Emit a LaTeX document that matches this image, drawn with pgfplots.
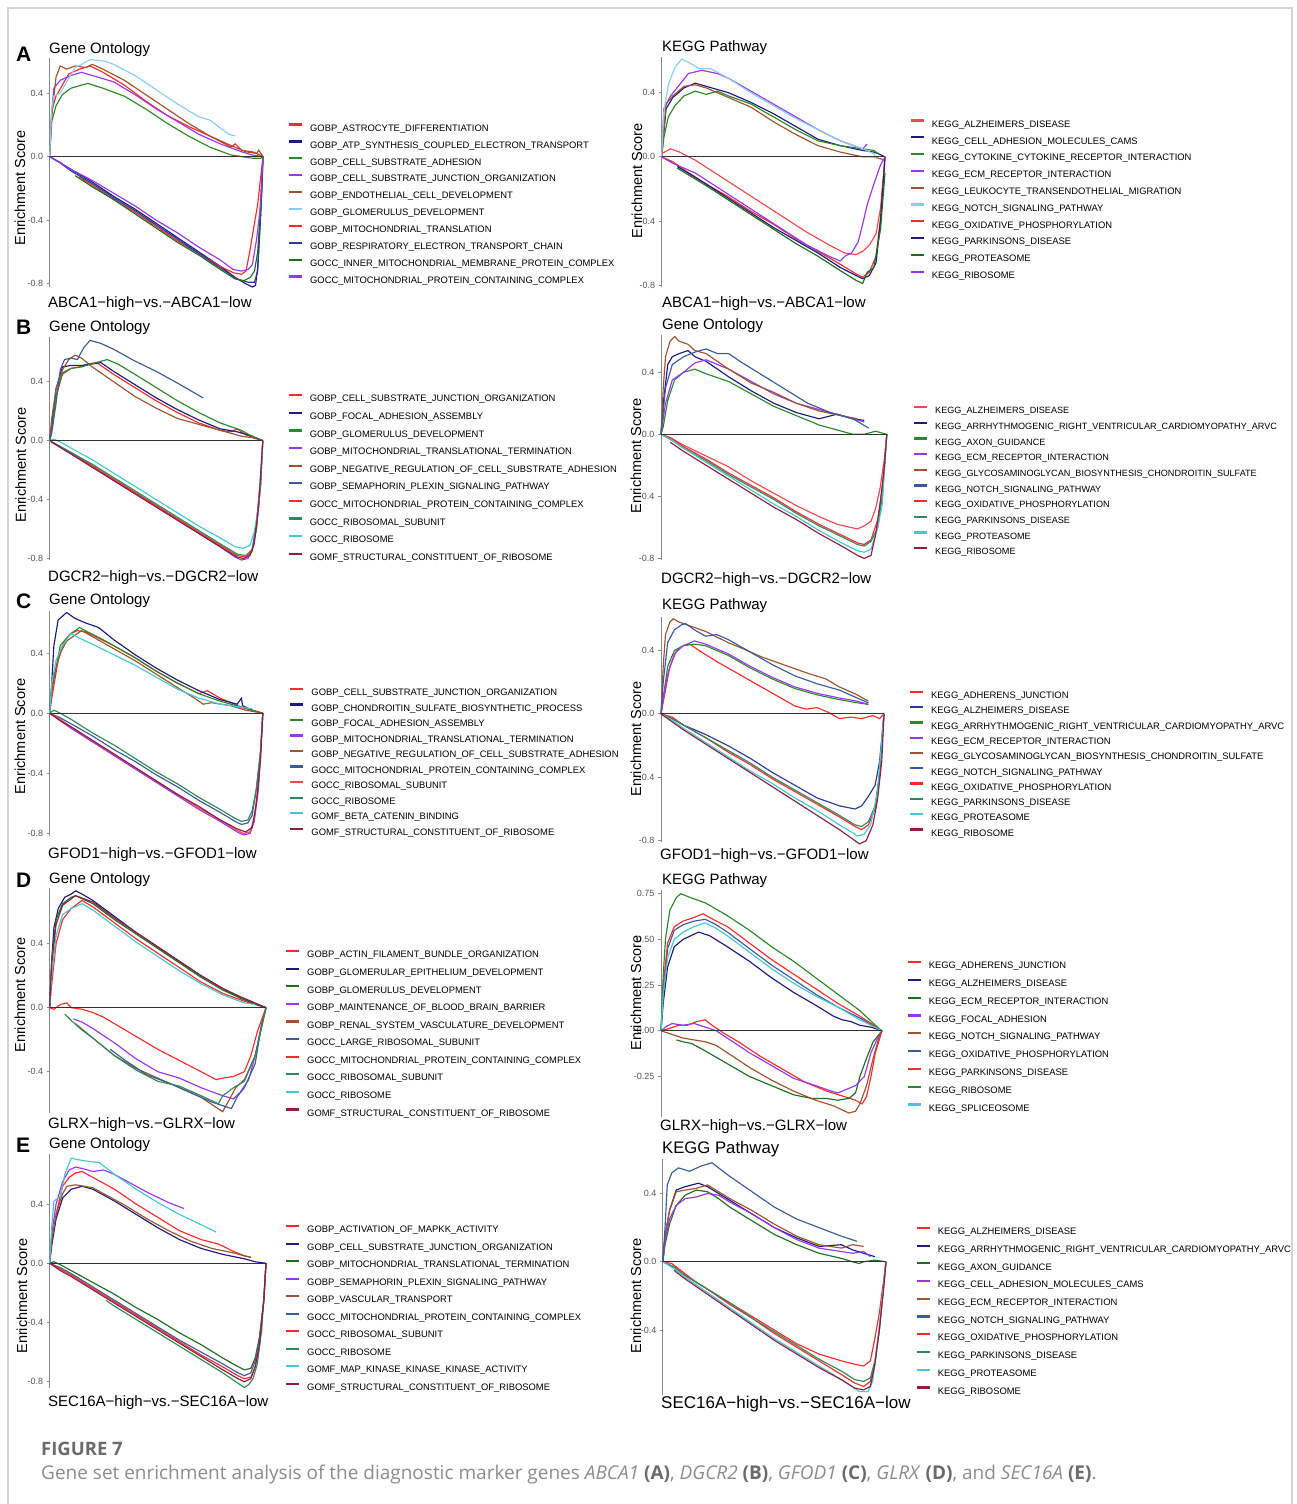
\documentclass[border=0pt]{standalone}
\usepackage{fontspec}
\setmainfont{Liberation Sans}
\newfontfamily\capfont{Open Sans}
\usepackage{pgfplots}
\pgfplotsset{compat=1.18}
\definecolor{cRed}{HTML}{FF2A2A}
\definecolor{cSalmon}{HTML}{F5474F}
\definecolor{cNavy}{HTML}{1B1B80}
\definecolor{cRoyal}{HTML}{2B3A9A}
\definecolor{cGreen}{HTML}{2A8A2A}
\definecolor{cDGreen}{HTML}{1F6E1F}
\definecolor{cPurple}{HTML}{9B35F0}
\definecolor{cBrown}{HTML}{A0522D}
\definecolor{cSky}{HTML}{87CEEB}
\definecolor{cSlate}{HTML}{3A5BA0}
\definecolor{cSea}{HTML}{2E8B57}
\definecolor{cCyan}{HTML}{45C6D8}
\definecolor{cMaroon}{HTML}{8B2040}
\definecolor{axgray}{HTML}{8A8A8A}
\definecolor{tickgray}{HTML}{555555}
\definecolor{zerogray}{HTML}{333333}
\definecolor{bordergray}{HTML}{D4D4D4}
\definecolor{capdark}{HTML}{6B6B6B}
\definecolor{caplight}{HTML}{8C8C8C}
\pgfplotsset{
  legend image code/.code={\draw[#1, line width=2.2pt] (0pt,3.35pt) -- (13pt,3.35pt);},
  gsea/.style={
    scale only axis, anchor=south west,
    axis x line=none, axis y line*=left,
    y axis line style={draw=axgray, line width=0.8pt},
    xmin=0, xmax=1, clip=false,
    tick align=outside, major tick length=3pt,
    ytick style={draw=axgray, line width=0.8pt},
    yticklabel style={font=\fontsize{9}{9}\selectfont, text=tickgray},
    /pgf/number format/assume math mode=true,
    /pgf/number format/fixed, /pgf/number format/fixed zerofill, /pgf/number format/precision=1,
    every axis plot/.append style={line width=1.15pt, mark=none},
    legend cell align=left,
    legend style={draw=none, fill=none, inner sep=0pt, outer sep=0pt, anchor=north west, column sep=7pt,
      font=\fontsize{9.4}{9.4}\selectfont,
      nodes={inner sep=0pt, outer sep=0pt, text height=6.7pt, text depth=0pt}},
  },
}
\begin{document}
\begin{tikzpicture}
\path[use as bounding box] (0pt,0pt) rectangle (1296pt,-1504pt);
\draw[bordergray, line width=1.2pt] (8pt,-1504pt) -- (8pt,-8pt) -- (1292pt,-8pt) -- (1292pt,-1504pt);

% ================= A left =================
\begin{axis}[gsea, at={(49.6pt,-287pt)}, width=213.4pt, height=229pt,
  ymin=-0.82, ymax=0.62, ytick={-0.8,-0.4,0,0.4},
  legend style={at={(1.117,0.714)}, row sep=9.08pt}]
\addplot[cRed] coordinates {(0,0)(0.01,0.29)(0.03,0.38)(0.06,0.45)(0.09,0.52)(0.14,0.55)(0.19,0.57)(0.25,0.53)(0.35,0.45)(0.45,0.35)(0.55,0.26)(0.65,0.19)(0.75,0.13)(0.85,0.06)(0.87,0.08)(0.9,0.04)(0.95,0.03)(0.97,0.02)(1,0)};
\addlegendentry{GOBP\_ASTROCYTE\_DIFFERENTIATION}
\addplot[cNavy] coordinates {(0,0)(0.04,-0.03)(0.1,-0.08)(0.2,-0.16)(0.3,-0.25)(0.4,-0.33)(0.5,-0.42)(0.6,-0.51)(0.7,-0.6)(0.8,-0.69)(0.87,-0.76)(0.92,-0.8)(0.95,-0.82)(0.965,-0.81)(0.975,-0.7)(0.985,-0.45)(0.995,-0.2)(1,0)};
\addlegendentry{GOBP\_ATP\_SYNTHESIS\_COUPLED\_ELECTRON\_TRANSPORT}
\addplot[cGreen] coordinates {(0,0)(0.01,0.22)(0.03,0.32)(0.06,0.39)(0.1,0.43)(0.15,0.45)(0.18,0.46)(0.25,0.43)(0.35,0.38)(0.45,0.3)(0.55,0.21)(0.65,0.13)(0.75,0.06)(0.85,0.01)(0.9,0)(0.95,-0.01)(0.99,-0.01)(1,0)};
\addlegendentry{GOBP\_CELL\_SUBSTRATE\_ADHESION}
\addplot[cPurple] coordinates {(0,0)(0.01,0.28)(0.02,0.43)(0.05,0.48)(0.1,0.51)(0.15,0.53)(0.2,0.51)(0.3,0.47)(0.4,0.39)(0.5,0.3)(0.6,0.22)(0.7,0.14)(0.8,0.08)(0.9,0.03)(0.95,0.01)(1,0)};
\addlegendentry{GOBP\_CELL\_SUBSTRATE\_JUNCTION\_ORGANIZATION}
\addplot[cBrown] coordinates {(0,0)(0.01,0.25)(0.03,0.5)(0.05,0.57)(0.08,0.55)(0.12,0.57)(0.17,0.56)(0.2,0.58)(0.25,0.55)(0.35,0.48)(0.45,0.39)(0.55,0.3)(0.65,0.21)(0.75,0.13)(0.85,0.07)(0.92,0.03)(0.97,0.02)(0.98,0.04)(1,0)};
\addlegendentry{GOBP\_ENDOTHELIAL\_CELL\_DEVELOPMENT}
\addplot[cSky] coordinates {(0,0)(0.01,0.3)(0.02,0.38)(0.05,0.4)(0.08,0.47)(0.12,0.56)(0.15,0.58)(0.19,0.61)(0.26,0.6)(0.3,0.58)(0.4,0.51)(0.5,0.42)(0.6,0.33)(0.7,0.25)(0.75,0.23)(0.8,0.18)(0.84,0.14)(0.87,0.13)};
\addlegendentry{GOBP\_GLOMERULUS\_DEVELOPMENT}
\addplot[cRed] coordinates {(0.14,-0.13)(0.2,-0.18)(0.3,-0.27)(0.4,-0.35)(0.5,-0.44)(0.6,-0.53)(0.7,-0.61)(0.8,-0.69)(0.86,-0.73)(0.9,-0.74)(0.92,-0.72)(0.935,-0.62)(0.95,-0.5)(0.96,-0.42)(0.975,-0.3)(0.99,-0.12)(1,0)};
\addlegendentry{GOBP\_MITOCHONDRIAL\_TRANSLATION}
\addplot[cRoyal] coordinates {(0,0)(0.05,-0.04)(0.1,-0.09)(0.2,-0.17)(0.3,-0.26)(0.4,-0.34)(0.5,-0.43)(0.6,-0.52)(0.7,-0.61)(0.8,-0.7)(0.88,-0.77)(0.93,-0.79)(0.96,-0.79)(0.975,-0.72)(0.99,-0.35)(1,0)};
\addlegendentry{GOBP\_RESPIRATORY\_ELECTRON\_TRANSPORT\_CHAIN}
\addplot[cDGreen] coordinates {(0.12,-0.12)(0.2,-0.19)(0.3,-0.27)(0.4,-0.36)(0.5,-0.45)(0.6,-0.54)(0.7,-0.62)(0.8,-0.71)(0.87,-0.77)(0.91,-0.78)(0.94,-0.76)(0.96,-0.72)(0.975,-0.6)(0.99,-0.3)(1,0)};
\addlegendentry{GOCC\_INNER\_MITOCHONDRIAL\_MEMBRANE\_PROTEIN\_COMPLEX}
\addplot[cPurple] coordinates {(0,0)(0.05,-0.04)(0.1,-0.08)(0.2,-0.15)(0.3,-0.23)(0.4,-0.31)(0.5,-0.4)(0.6,-0.48)(0.7,-0.57)(0.8,-0.65)(0.86,-0.71)(0.9,-0.72)(0.93,-0.71)(0.95,-0.68)(0.97,-0.52)(0.985,-0.35)(1,0)};
\addlegendentry{GOCC\_MITOCHONDRIAL\_PROTEIN\_CONTAINING\_COMPLEX}
\addplot[draw=zerogray, line width=1pt, forget plot] coordinates {(0,0)(1,0)};
\end{axis}

% ================= A right =================
\begin{axis}[gsea, at={(661.6pt,-286.7pt)}, width=223.4pt, height=230pt,
  ymin=-0.81, ymax=0.625, ytick={-0.8,-0.4,0,0.4},
  legend style={at={(1.1106,0.7272)}, row sep=9.0pt}]
\addplot[cSalmon] coordinates {(0,0.02)(0.04,0.05)(0.08,0.03)(0.15,-0.02)(0.25,-0.11)(0.35,-0.2)(0.45,-0.29)(0.55,-0.38)(0.65,-0.47)(0.75,-0.55)(0.82,-0.6)(0.87,-0.61)(0.9,-0.59)(0.93,-0.55)(0.96,-0.48)(0.98,-0.32)(1,0)};
\addlegendentry{KEGG\_ALZHEIMERS\_DISEASE}
\addplot[cNavy] coordinates {(0,0)(0.02,0.3)(0.05,0.37)(0.1,0.43)(0.15,0.46)(0.2,0.44)(0.3,0.4)(0.4,0.34)(0.5,0.27)(0.6,0.19)(0.7,0.11)(0.8,0.07)(0.9,0.04)(0.95,0.03)(0.97,0.02)(1,0)};
\addlegendentry{KEGG\_CELL\_ADHESION\_MOLECULES\_CAMS}
\addplot[cGreen] coordinates {(0,0)(0.01,0.12)(0.03,0.25)(0.06,0.32)(0.1,0.38)(0.15,0.41)(0.2,0.39)(0.25,0.41)(0.3,0.38)(0.4,0.33)(0.5,0.25)(0.6,0.17)(0.7,0.1)(0.8,0.07)(0.9,0.05)(0.95,0.04)(0.97,0.02)};
\addlegendentry{KEGG\_CYTOKINE\_CYTOKINE\_RECEPTOR\_INTERACTION}
\addplot[cPurple] coordinates {(0,0)(0.01,0.3)(0.04,0.38)(0.08,0.45)(0.12,0.52)(0.18,0.54)(0.25,0.52)(0.3,0.49)(0.4,0.41)(0.5,0.33)(0.6,0.25)(0.7,0.17)(0.8,0.1)(0.9,0.05)(0.92,0.08)};
\addlegendentry{KEGG\_ECM\_RECEPTOR\_INTERACTION}
\addplot[cBrown] coordinates {(0,0)(0.02,0.33)(0.05,0.38)(0.1,0.44)(0.15,0.45)(0.2,0.43)(0.3,0.37)(0.4,0.31)(0.5,0.22)(0.6,0.14)(0.7,0.07)(0.8,0.03)(0.9,0)(0.95,0)(1,-0.02)};
\addlegendentry{KEGG\_LEUKOCYTE\_TRANSENDOTHELIAL\_MIGRATION}
\addplot[cSky] coordinates {(0,0)(0.01,0.28)(0.03,0.45)(0.06,0.56)(0.09,0.61)(0.12,0.59)(0.17,0.55)(0.22,0.55)(0.3,0.49)(0.4,0.4)(0.5,0.32)(0.6,0.24)(0.7,0.17)(0.8,0.1)(0.9,0.05)(0.95,0.02)(0.96,-0.01)};
\addlegendentry{KEGG\_NOTCH\_SIGNALING\_PATHWAY}
\addplot[cRed] coordinates {(0,0)(0.05,-0.03)(0.1,-0.08)(0.2,-0.17)(0.3,-0.25)(0.4,-0.34)(0.5,-0.42)(0.6,-0.51)(0.7,-0.59)(0.8,-0.67)(0.87,-0.73)(0.9,-0.75)(0.93,-0.72)(0.96,-0.62)(0.98,-0.38)(1,0)};
\addlegendentry{KEGG\_OXIDATIVE\_PHOSPHORYLATION}
\addplot[cNavy] coordinates {(0.07,-0.06)(0.2,-0.17)(0.3,-0.26)(0.4,-0.35)(0.5,-0.44)(0.6,-0.52)(0.7,-0.6)(0.8,-0.69)(0.87,-0.74)(0.9,-0.76)(0.93,-0.74)(0.96,-0.66)(0.98,-0.4)(1,0)};
\addlegendentry{KEGG\_PARKINSONS\_DISEASE}
\addplot[cDGreen] coordinates {(0.07,-0.07)(0.2,-0.18)(0.3,-0.27)(0.4,-0.36)(0.5,-0.45)(0.6,-0.54)(0.7,-0.62)(0.8,-0.71)(0.87,-0.77)(0.9,-0.79)(0.92,-0.72)(0.95,-0.69)(0.98,-0.45)(1,-0.1)};
\addlegendentry{KEGG\_PROTEASOME}
\addplot[cPurple] coordinates {(0,0)(0.05,-0.04)(0.15,-0.1)(0.25,-0.19)(0.35,-0.28)(0.45,-0.37)(0.55,-0.46)(0.65,-0.55)(0.75,-0.62)(0.8,-0.65)(0.82,-0.62)(0.85,-0.6)(0.88,-0.53)(0.9,-0.42)(0.92,-0.3)(0.95,-0.17)(0.98,-0.05)(1,0)};
\addlegendentry{KEGG\_RIBOSOME}
\addplot[draw=zerogray, line width=1pt, forget plot] coordinates {(0,0)(1,0)};
\end{axis}

% ================= B left =================
\begin{axis}[gsea, at={(49.6pt,-560pt)}, width=213.2pt, height=223.3pt,
  ymin=-0.81, ymax=0.705, ytick={-0.8,-0.4,0,0.4},
  legend style={at={(1.1163,0.7432)}, row sep=9.82pt}]
\addplot[cRed] coordinates {(0,0)(0.01,0.1)(0.03,0.3)(0.06,0.45)(0.1,0.49)(0.14,0.5)(0.18,0.52)(0.22,0.53)(0.25,0.5)(0.3,0.45)(0.4,0.36)(0.5,0.27)(0.6,0.19)(0.7,0.12)(0.8,0.07)(0.85,0.06)(0.88,0.08)(0.92,0.04)(1,0)};
\addlegendentry{GOBP\_CELL\_SUBSTRATE\_JUNCTION\_ORGANIZATION}
\addplot[cNavy] coordinates {(0,0)(0.01,0.1)(0.03,0.35)(0.06,0.5)(0.1,0.51)(0.15,0.51)(0.2,0.52)(0.24,0.53)(0.3,0.47)(0.4,0.38)(0.5,0.29)(0.6,0.21)(0.7,0.14)(0.8,0.08)(0.88,0.06)(0.95,0.03)(1,0)};
\addlegendentry{GOBP\_FOCAL\_ADHESION\_ASSEMBLY}
\addplot[cGreen] coordinates {(0,0)(0.01,0.08)(0.03,0.3)(0.06,0.46)(0.1,0.49)(0.15,0.5)(0.22,0.53)(0.27,0.55)(0.32,0.52)(0.4,0.45)(0.5,0.36)(0.6,0.27)(0.7,0.19)(0.8,0.12)(0.9,0.07)(0.95,0.03)(1,0)};
\addlegendentry{GOBP\_GLOMERULUS\_DEVELOPMENT}
\addplot[cPurple] coordinates {(0,0)(0.02,-0.02)(0.1,-0.09)(0.2,-0.18)(0.3,-0.27)(0.4,-0.36)(0.5,-0.45)(0.6,-0.54)(0.7,-0.63)(0.8,-0.72)(0.87,-0.79)(0.9,-0.81)(0.93,-0.8)(0.95,-0.74)(0.97,-0.55)(0.99,-0.25)(1,0)};
\addlegendentry{GOBP\_MITOCHONDRIAL\_TRANSLATIONAL\_TERMINATION}
\addplot[cBrown] coordinates {(0,0)(0.01,0.15)(0.03,0.35)(0.06,0.48)(0.09,0.55)(0.12,0.58)(0.15,0.56)(0.2,0.5)(0.3,0.4)(0.4,0.3)(0.5,0.22)(0.6,0.15)(0.7,0.11)(0.8,0.07)(0.85,0.05)(0.9,0.03)(0.95,0.02)(1,0)};
\addlegendentry{GOBP\_NEGATIVE\_REGULATION\_OF\_CELL\_SUBSTRATE\_ADHESION}
\addplot[cSlate] coordinates {(0,0)(0.01,0.05)(0.03,0.25)(0.05,0.48)(0.07,0.55)(0.1,0.56)(0.13,0.55)(0.16,0.63)(0.19,0.68)(0.24,0.66)(0.3,0.62)(0.35,0.58)(0.4,0.54)(0.5,0.47)(0.6,0.39)(0.66,0.34)(0.72,0.29)};
\addlegendentry{GOBP\_SEMAPHORIN\_PLEXIN\_SIGNALING\_PATHWAY}
\addplot[cRed] coordinates {(0,0)(0.1,-0.08)(0.2,-0.17)(0.3,-0.26)(0.4,-0.35)(0.5,-0.44)(0.6,-0.53)(0.7,-0.62)(0.8,-0.71)(0.88,-0.78)(0.92,-0.79)(0.95,-0.75)(0.97,-0.6)(0.99,-0.3)(1,0)};
\addlegendentry{GOCC\_MITOCHONDRIAL\_PROTEIN\_CONTAINING\_COMPLEX}
\addplot[cSea] coordinates {(0,0)(0.1,-0.08)(0.2,-0.16)(0.3,-0.25)(0.4,-0.34)(0.5,-0.43)(0.6,-0.52)(0.7,-0.61)(0.8,-0.7)(0.88,-0.77)(0.92,-0.78)(0.95,-0.74)(0.97,-0.6)(0.99,-0.3)(1,0)};
\addlegendentry{GOCC\_RIBOSOMAL\_SUBUNIT}
\addplot[cCyan] coordinates {(0,0)(0.02,0.01)(0.05,-0.01)(0.1,-0.05)(0.2,-0.13)(0.3,-0.22)(0.4,-0.31)(0.5,-0.4)(0.6,-0.49)(0.7,-0.58)(0.8,-0.66)(0.87,-0.72)(0.91,-0.73)(0.94,-0.71)(0.96,-0.62)(0.98,-0.45)(1,0)};
\addlegendentry{GOCC\_RIBOSOME}
\addplot[cMaroon] coordinates {(0.01,-0.01)(0.1,-0.09)(0.2,-0.18)(0.3,-0.27)(0.4,-0.36)(0.5,-0.45)(0.6,-0.54)(0.7,-0.63)(0.8,-0.72)(0.88,-0.79)(0.91,-0.8)(0.94,-0.78)(0.96,-0.7)(0.98,-0.45)(1,0)};
\addlegendentry{GOMF\_STRUCTURAL\_CONSTITUENT\_OF\_RIBOSOME}
\addplot[draw=zerogray, line width=1pt, forget plot] coordinates {(0,0)(1,0)};
\end{axis}

% ================= B right =================
\begin{axis}[gsea, at={(661pt,-560pt)}, width=225.8pt, height=225pt,
  ymin=-0.81, ymax=0.64, ytick={-0.8,-0.4,0,0.4},
  legend style={at={(1.116,0.6842)}, row sep=7.86pt, font=\fontsize{9.1}{9.1}\selectfont}]
\addplot[cSalmon] coordinates {(0,0)(0.04,-0.02)(0.1,-0.07)(0.2,-0.14)(0.3,-0.21)(0.4,-0.3)(0.5,-0.38)(0.6,-0.46)(0.7,-0.53)(0.78,-0.58)(0.84,-0.6)(0.87,-0.61)(0.9,-0.59)(0.93,-0.56)(0.95,-0.48)(0.97,-0.35)(0.99,-0.15)(1,0)};
\addlegendentry{KEGG\_ALZHEIMERS\_DISEASE}
\addplot[cNavy] coordinates {(0,0)(0.01,0.2)(0.03,0.45)(0.05,0.5)(0.08,0.52)(0.12,0.54)(0.15,0.5)(0.2,0.47)(0.3,0.37)(0.4,0.28)(0.5,0.2)(0.6,0.14)(0.7,0.1)(0.78,0.13)(0.85,0.1)(0.9,0.09)};
\addlegendentry{KEGG\_ARRHYTHMOGENIC\_RIGHT\_VENTRICULAR\_CARDIOMYOPATHY\_ARVC}
\addplot[cGreen] coordinates {(0,0)(0.01,0.05)(0.03,0.22)(0.06,0.35)(0.1,0.4)(0.15,0.42)(0.2,0.39)(0.3,0.34)(0.4,0.26)(0.5,0.18)(0.6,0.12)(0.7,0.06)(0.8,0.02)(0.85,0)(0.9,0)(0.95,0.02)(1,0)};
\addlegendentry{KEGG\_AXON\_GUIDANCE}
\addplot[cPurple] coordinates {(0,0)(0.02,0.2)(0.05,0.35)(0.1,0.4)(0.15,0.46)(0.2,0.48)(0.25,0.45)(0.3,0.42)(0.4,0.34)(0.5,0.26)(0.6,0.2)(0.7,0.16)(0.75,0.14)(0.8,0.12)(0.9,0.08)};
\addlegendentry{KEGG\_ECM\_RECEPTOR\_INTERACTION}
\addplot[cBrown] coordinates {(0,0)(0.01,0.3)(0.02,0.5)(0.04,0.6)(0.06,0.63)(0.08,0.6)(0.12,0.58)(0.15,0.54)(0.2,0.52)(0.3,0.42)(0.4,0.33)(0.5,0.27)(0.6,0.2)(0.7,0.15)(0.8,0.12)(0.87,0.1)};
\addlegendentry{KEGG\_GLYCOSAMINOGLYCAN\_BIOSYNTHESIS\_CHONDROITIN\_SULFATE}
\addplot[cSlate] coordinates {(0,0)(0.02,0.3)(0.05,0.45)(0.1,0.5)(0.15,0.53)(0.2,0.55)(0.25,0.52)(0.3,0.52)(0.35,0.47)(0.45,0.38)(0.55,0.29)(0.65,0.2)(0.75,0.14)(0.85,0.1)(0.92,0.04)};
\addlegendentry{KEGG\_NOTCH\_SIGNALING\_PATHWAY}
\addplot[cRed] coordinates {(0,0)(0.05,-0.03)(0.1,-0.08)(0.2,-0.16)(0.3,-0.25)(0.4,-0.33)(0.5,-0.41)(0.6,-0.5)(0.7,-0.58)(0.8,-0.65)(0.87,-0.7)(0.9,-0.71)(0.93,-0.68)(0.96,-0.55)(0.98,-0.35)(1,0)};
\addlegendentry{KEGG\_OXIDATIVE\_PHOSPHORYLATION}
\addplot[cSea] coordinates {(0,0)(0.05,-0.04)(0.1,-0.09)(0.2,-0.17)(0.3,-0.26)(0.4,-0.34)(0.5,-0.42)(0.6,-0.51)(0.7,-0.59)(0.8,-0.66)(0.87,-0.71)(0.9,-0.72)(0.93,-0.69)(0.96,-0.6)(0.98,-0.4)(1,0)};
\addlegendentry{KEGG\_PARKINSONS\_DISEASE}
\addplot[cCyan] coordinates {(0,0)(0.05,-0.04)(0.1,-0.09)(0.2,-0.18)(0.3,-0.27)(0.4,-0.36)(0.5,-0.45)(0.6,-0.53)(0.7,-0.62)(0.8,-0.7)(0.87,-0.75)(0.9,-0.76)(0.93,-0.74)(0.96,-0.6)(0.98,-0.45)(1,0)};
\addlegendentry{KEGG\_PROTEASOME}
\addplot[cMaroon] coordinates {(0.04,-0.05)(0.1,-0.11)(0.2,-0.2)(0.3,-0.29)(0.4,-0.38)(0.5,-0.47)(0.6,-0.55)(0.7,-0.64)(0.8,-0.72)(0.87,-0.78)(0.9,-0.8)(0.93,-0.78)(0.95,-0.65)(0.97,-0.45)(0.99,-0.2)(1,0)};
\addlegendentry{KEGG\_RIBOSOME}
\addplot[draw=zerogray, line width=1pt, forget plot] coordinates {(0,0)(1,0)};
\end{axis}

% ================= C left =================
\begin{axis}[gsea, at={(49.6pt,-835.7pt)}, width=213.2pt, height=224.7pt,
  ymin=-0.815, ymax=0.68, ytick={-0.8,-0.4,0,0.4},
  legend style={at={(1.124,0.6584)}, row sep=7.74pt}]
\addplot[cRed] coordinates {(0,0)(0.01,0.1)(0.04,0.35)(0.07,0.48)(0.1,0.53)(0.13,0.55)(0.17,0.54)(0.2,0.52)(0.3,0.45)(0.4,0.37)(0.5,0.28)(0.6,0.2)(0.7,0.13)(0.74,0.15)(0.8,0.1)(0.9,0.04)(1,0)};
\addlegendentry{GOBP\_CELL\_SUBSTRATE\_JUNCTION\_ORGANIZATION}
\addplot[cNavy] coordinates {(0,0)(0.01,0.2)(0.02,0.45)(0.04,0.62)(0.08,0.67)(0.12,0.63)(0.17,0.6)(0.23,0.57)(0.3,0.49)(0.4,0.39)(0.5,0.3)(0.6,0.22)(0.7,0.15)(0.8,0.09)(0.88,0.06)(0.9,0.1)(0.905,0.05)(0.95,0.02)(1,0)};
\addlegendentry{GOBP\_CHONDROITIN\_SULFATE\_BIOSYNTHETIC\_PROCESS}
\addplot[cGreen] coordinates {(0,0)(0.01,0.15)(0.03,0.3)(0.05,0.45)(0.08,0.5)(0.1,0.53)(0.14,0.57)(0.18,0.54)(0.25,0.49)(0.3,0.45)(0.4,0.37)(0.5,0.28)(0.6,0.2)(0.7,0.13)(0.8,0.08)(0.9,0.04)(1,0)};
\addlegendentry{GOBP\_FOCAL\_ADHESION\_ASSEMBLY}
\addplot[cPurple] coordinates {(0,0)(0.05,-0.05)(0.1,-0.1)(0.2,-0.19)(0.3,-0.28)(0.4,-0.37)(0.5,-0.46)(0.6,-0.55)(0.7,-0.64)(0.8,-0.72)(0.88,-0.79)(0.91,-0.81)(0.94,-0.8)(0.96,-0.72)(0.98,-0.5)(1,0)};
\addlegendentry{GOBP\_MITOCHONDRIAL\_TRANSLATIONAL\_TERMINATION}
\addplot[cBrown] coordinates {(0,0)(0.02,0.25)(0.05,0.4)(0.08,0.48)(0.12,0.52)(0.15,0.55)(0.2,0.51)(0.3,0.43)(0.4,0.35)(0.5,0.26)(0.6,0.17)(0.68,0.1)(0.72,0.06)(0.76,0.07)(0.85,0.05)(0.92,0.02)(1,0)};
\addlegendentry{GOBP\_NEGATIVE\_REGULATION\_OF\_CELL\_SUBSTRATE\_ADHESION}
\addplot[cSlate] coordinates {(0,0)(0.05,-0.03)(0.1,-0.07)(0.2,-0.15)(0.3,-0.24)(0.4,-0.32)(0.5,-0.41)(0.6,-0.49)(0.7,-0.58)(0.8,-0.66)(0.87,-0.72)(0.9,-0.74)(0.93,-0.73)(0.95,-0.68)(0.97,-0.5)(0.99,-0.25)(1,0)};
\addlegendentry{GOCC\_MITOCHONDRIAL\_PROTEIN\_CONTAINING\_COMPLEX}
\addplot[cSalmon] coordinates {(0,0)(0.05,-0.04)(0.1,-0.09)(0.2,-0.18)(0.3,-0.27)(0.4,-0.36)(0.5,-0.45)(0.6,-0.54)(0.7,-0.63)(0.8,-0.71)(0.88,-0.78)(0.91,-0.8)(0.94,-0.79)(0.96,-0.7)(0.98,-0.45)(1,0)};
\addlegendentry{GOCC\_RIBOSOMAL\_SUBUNIT}
\addplot[cSea] coordinates {(0,0)(0.02,0.02)(0.05,0)(0.1,-0.04)(0.2,-0.13)(0.3,-0.21)(0.4,-0.3)(0.5,-0.39)(0.6,-0.47)(0.7,-0.56)(0.8,-0.64)(0.87,-0.7)(0.9,-0.72)(0.93,-0.71)(0.95,-0.65)(0.97,-0.5)(0.99,-0.25)(1,0)};
\addlegendentry{GOCC\_RIBOSOME}
\addplot[cCyan] coordinates {(0,0)(0.01,0.2)(0.03,0.35)(0.06,0.45)(0.1,0.53)(0.14,0.5)(0.2,0.46)(0.3,0.39)(0.4,0.32)(0.5,0.24)(0.6,0.16)(0.7,0.1)(0.8,0.06)(0.9,0.04)(0.95,0.03)};
\addlegendentry{GOMF\_BETA\_CATENIN\_BINDING}
\addplot[cMaroon] coordinates {(0,0)(0.05,-0.05)(0.1,-0.09)(0.2,-0.18)(0.3,-0.27)(0.4,-0.36)(0.5,-0.45)(0.6,-0.54)(0.7,-0.62)(0.8,-0.71)(0.88,-0.77)(0.92,-0.79)(0.95,-0.76)(0.97,-0.6)(0.99,-0.3)(1,0)};
\addlegendentry{GOMF\_STRUCTURAL\_CONSTITUENT\_OF\_RIBOSOME}
\addplot[draw=zerogray, line width=1pt, forget plot] coordinates {(0,0)(1,0)};
\end{axis}

% ================= C right =================
\begin{axis}[gsea, at={(661pt,-842.3pt)}, width=223pt, height=225.6pt,
  ymin=-0.81, ymax=0.613, ytick={-0.8,-0.4,0,0.4},
  legend style={at={(1.112,0.6718)}, row sep=7.49pt}]
\addplot[cRed] coordinates {(0,0)(0.02,0.15)(0.04,0.3)(0.07,0.4)(0.1,0.43)(0.13,0.44)(0.17,0.4)(0.25,0.33)(0.35,0.25)(0.45,0.17)(0.55,0.09)(0.6,0.05)(0.65,0.03)(0.7,0.04)(0.75,0.01)(0.8,-0.03)(0.85,-0.02)(0.9,-0.03)(0.95,-0.01)(0.98,-0.03)(1,0)};
\addlegendentry{KEGG\_ADHERENS\_JUNCTION}
\addplot[cRoyal] coordinates {(0,0)(0.05,-0.03)(0.1,-0.07)(0.15,-0.1)(0.2,-0.13)(0.3,-0.2)(0.4,-0.28)(0.5,-0.37)(0.6,-0.45)(0.7,-0.53)(0.8,-0.58)(0.87,-0.6)(0.9,-0.58)(0.93,-0.52)(0.96,-0.45)(0.98,-0.3)(1,0)};
\addlegendentry{KEGG\_ALZHEIMERS\_DISEASE}
\addplot[cGreen] coordinates {(0,0)(0.01,0.1)(0.03,0.3)(0.06,0.4)(0.1,0.43)(0.15,0.44)(0.2,0.43)(0.3,0.37)(0.4,0.29)(0.5,0.22)(0.6,0.16)(0.7,0.12)(0.8,0.09)(0.88,0.07)(0.93,0.06)};
\addlegendentry{KEGG\_ARRHYTHMOGENIC\_RIGHT\_VENTRICULAR\_CARDIOMYOPATHY\_ARVC}
\addplot[cPurple] coordinates {(0,0)(0.01,0.1)(0.03,0.25)(0.06,0.38)(0.1,0.43)(0.15,0.46)(0.2,0.44)(0.3,0.38)(0.4,0.3)(0.5,0.23)(0.6,0.17)(0.7,0.13)(0.8,0.1)(0.88,0.08)(0.93,0.06)};
\addlegendentry{KEGG\_ECM\_RECEPTOR\_INTERACTION}
\addplot[cBrown] coordinates {(0,0)(0.01,0.3)(0.02,0.5)(0.04,0.58)(0.055,0.6)(0.08,0.58)(0.12,0.56)(0.2,0.52)(0.3,0.45)(0.37,0.41)(0.45,0.36)(0.55,0.31)(0.65,0.26)(0.74,0.22)(0.8,0.17)(0.88,0.12)(0.93,0.08)};
\addlegendentry{KEGG\_GLYCOSAMINOGLYCAN\_BIOSYNTHESIS\_CHONDROITIN\_SULFATE}
\addplot[cSlate] coordinates {(0,0)(0.01,0.2)(0.03,0.45)(0.06,0.53)(0.09,0.56)(0.11,0.57)(0.15,0.53)(0.2,0.49)(0.25,0.5)(0.3,0.47)(0.4,0.39)(0.5,0.31)(0.6,0.24)(0.7,0.19)(0.8,0.15)(0.88,0.1)(0.93,0.07)};
\addlegendentry{KEGG\_NOTCH\_SIGNALING\_PATHWAY}
\addplot[cRed] coordinates {(0,0)(0.05,-0.02)(0.1,-0.07)(0.2,-0.15)(0.3,-0.24)(0.4,-0.32)(0.5,-0.41)(0.6,-0.49)(0.7,-0.57)(0.8,-0.65)(0.87,-0.71)(0.9,-0.73)(0.93,-0.7)(0.96,-0.6)(0.98,-0.4)(1,0)};
\addlegendentry{KEGG\_OXIDATIVE\_PHOSPHORYLATION}
\addplot[cSea] coordinates {(0,0)(0.05,-0.03)(0.1,-0.07)(0.2,-0.15)(0.3,-0.23)(0.4,-0.31)(0.5,-0.4)(0.6,-0.48)(0.7,-0.56)(0.8,-0.64)(0.87,-0.7)(0.9,-0.71)(0.93,-0.68)(0.96,-0.58)(0.98,-0.38)(1,0)};
\addlegendentry{KEGG\_PARKINSONS\_DISEASE}
\addplot[cCyan] coordinates {(0,0)(0.05,-0.04)(0.1,-0.09)(0.2,-0.18)(0.3,-0.27)(0.4,-0.36)(0.5,-0.44)(0.6,-0.53)(0.7,-0.61)(0.8,-0.7)(0.86,-0.75)(0.88,-0.77)(0.91,-0.76)(0.94,-0.7)(0.97,-0.5)(1,0)};
\addlegendentry{KEGG\_PROTEASOME}
\addplot[cMaroon] coordinates {(0,0)(0.05,-0.05)(0.1,-0.1)(0.2,-0.19)(0.3,-0.28)(0.4,-0.37)(0.5,-0.46)(0.6,-0.55)(0.7,-0.64)(0.8,-0.73)(0.86,-0.79)(0.89,-0.82)(0.92,-0.8)(0.95,-0.7)(0.97,-0.55)(0.99,-0.3)(1,0)};
\addlegendentry{KEGG\_RIBOSOME}
\addplot[draw=zerogray, line width=1pt, forget plot] coordinates {(0,0)(1,0)};
\end{axis}

% ================= D left =================
\begin{axis}[gsea, at={(49.6pt,-1113.3pt)}, width=216.4pt, height=225pt,
  ymin=-0.66, ymax=0.746, ytick={-0.4,0,0.4},
  legend style={at={(1.0878,0.7256)}, row sep=9.79pt}]
\addplot[cRed] coordinates {(0,0)(0.01,0.15)(0.03,0.4)(0.06,0.55)(0.1,0.62)(0.15,0.67)(0.2,0.63)(0.3,0.53)(0.4,0.43)(0.5,0.34)(0.6,0.25)(0.7,0.16)(0.8,0.09)(0.9,0.04)(1,0)};
\addlegendentry{GOBP\_ACTIN\_FILAMENT\_BUNDLE\_ORGANIZATION}
\addplot[cNavy] coordinates {(0,0)(0.01,0.3)(0.02,0.5)(0.04,0.62)(0.07,0.69)(0.1,0.71)(0.12,0.73)(0.15,0.71)(0.2,0.67)(0.3,0.57)(0.4,0.47)(0.5,0.38)(0.6,0.29)(0.7,0.2)(0.8,0.12)(0.88,0.06)(0.92,0.04)(1,0)};
\addlegendentry{GOBP\_GLOMERULAR\_EPITHELIUM\_DEVELOPMENT}
\addplot[cDGreen] coordinates {(0,0)(0.01,0.3)(0.03,0.55)(0.06,0.65)(0.1,0.69)(0.12,0.7)(0.2,0.65)(0.3,0.55)(0.4,0.46)(0.5,0.37)(0.6,0.28)(0.7,0.19)(0.8,0.11)(0.9,0.05)(1,0)};
\addlegendentry{GOBP\_GLOMERULUS\_DEVELOPMENT}
\addplot[cPurple] coordinates {(0.11,-0.07)(0.15,-0.09)(0.2,-0.13)(0.3,-0.22)(0.4,-0.32)(0.5,-0.4)(0.6,-0.44)(0.7,-0.5)(0.8,-0.55)(0.85,-0.57)(0.88,-0.53)(0.92,-0.45)(0.95,-0.3)(0.98,-0.1)(1,0)};
\addlegendentry{GOBP\_MAINTENANCE\_OF\_BLOOD\_BRAIN\_BARRIER}
\addplot[cBrown] coordinates {(0.12,-0.1)(0.2,-0.19)(0.3,-0.3)(0.4,-0.38)(0.5,-0.44)(0.6,-0.5)(0.7,-0.56)(0.8,-0.65)(0.82,-0.6)(0.86,-0.5)(0.9,-0.45)(0.95,-0.3)(1,0)};
\addlegendentry{GOBP\_RENAL\_SYSTEM\_VASCULATURE\_DEVELOPMENT}
\addplot[cSlate] coordinates {(0.28,-0.26)(0.35,-0.33)(0.45,-0.42)(0.55,-0.47)(0.65,-0.53)(0.75,-0.59)(0.84,-0.63)(0.87,-0.55)(0.9,-0.5)(0.95,-0.35)(0.98,-0.1)(1,0)};
\addlegendentry{GOCC\_LARGE\_RIBOSOMAL\_SUBUNIT}
\addplot[cRed] coordinates {(0,0)(0.02,-0.01)(0.05,0.02)(0.08,0.03)(0.1,0)(0.15,-0.01)(0.2,-0.03)(0.25,-0.06)(0.3,-0.1)(0.4,-0.18)(0.5,-0.26)(0.6,-0.33)(0.7,-0.4)(0.77,-0.45)(0.8,-0.44)(0.85,-0.43)(0.9,-0.4)(0.93,-0.3)(0.96,-0.15)(1,0)};
\addlegendentry{GOCC\_MITOCHONDRIAL\_PROTEIN\_CONTAINING\_COMPLEX}
\addplot[cSea] coordinates {(0.07,-0.04)(0.1,-0.08)(0.15,-0.14)(0.2,-0.19)(0.3,-0.3)(0.4,-0.39)(0.5,-0.46)(0.6,-0.49)(0.7,-0.55)(0.78,-0.6)(0.8,-0.55)(0.85,-0.5)(0.9,-0.46)(0.95,-0.3)(1,0)};
\addlegendentry{GOCC\_RIBOSOMAL\_SUBUNIT}
\addplot[cCyan] coordinates {(0,0)(0.01,0.2)(0.03,0.45)(0.06,0.58)(0.1,0.62)(0.15,0.65)(0.2,0.61)(0.3,0.51)(0.4,0.41)(0.5,0.32)(0.6,0.23)(0.7,0.15)(0.8,0.08)(0.9,0.03)(0.95,0.02)};
\addlegendentry{GOCC\_RIBOSOME}
\addplot[cMaroon] coordinates {(0,0)(0.01,0.28)(0.03,0.52)(0.06,0.64)(0.1,0.68)(0.12,0.7)(0.2,0.66)(0.3,0.56)(0.4,0.47)(0.5,0.38)(0.6,0.29)(0.7,0.2)(0.8,0.12)(0.88,0.07)(1,0)};
\addlegendentry{GOMF\_STRUCTURAL\_CONSTITUENT\_OF\_RIBOSOME}
\addplot[draw=zerogray, line width=1pt, forget plot] coordinates {(0,0)(1,0)};
\end{axis}

% ================= D right =================
\begin{axis}[gsea, at={(661pt,-1116.7pt)}, width=221pt, height=226.7pt,
  ymin=-0.47, ymax=0.77, ytick={-0.25,0,0.25,0.5,0.75}, /pgf/number format/precision=2,
  legend style={at={(1.1113,0.6866)}, row sep=9.98pt}]
\addplot[cRed] coordinates {(0,0)(0.03,0.01)(0.08,0.03)(0.12,0.03)(0.16,0.05)(0.2,0.06)(0.22,0.04)(0.28,-0.01)(0.35,-0.06)(0.45,-0.14)(0.55,-0.21)(0.65,-0.28)(0.75,-0.33)(0.83,-0.36)(0.88,-0.38)(0.91,-0.4)(0.93,-0.36)(0.95,-0.25)(0.97,-0.12)(1,0)};
\addlegendentry{KEGG\_ADHERENS\_JUNCTION}
\addplot[cNavy] coordinates {(0,0)(0.01,0.15)(0.03,0.35)(0.06,0.46)(0.1,0.5)(0.17,0.54)(0.22,0.52)(0.3,0.46)(0.4,0.38)(0.5,0.29)(0.6,0.21)(0.7,0.14)(0.78,0.08)(0.82,0.06)(0.86,0.05)(0.9,0.03)(0.95,0.02)(1,0)};
\addlegendentry{KEGG\_ALZHEIMERS\_DISEASE}
\addplot[cDGreen] coordinates {(0.07,-0.05)(0.1,-0.06)(0.14,-0.07)(0.2,-0.11)(0.3,-0.18)(0.4,-0.25)(0.5,-0.3)(0.6,-0.35)(0.68,-0.37)(0.75,-0.37)(0.8,-0.38)(0.85,-0.37)(0.88,-0.34)(0.9,-0.25)(0.93,-0.15)(0.96,-0.06)(1,0)};
\addlegendentry{KEGG\_ECM\_RECEPTOR\_INTERACTION}
\addplot[cPurple] coordinates {(0,0)(0.02,0.02)(0.05,0.04)(0.1,0.03)(0.15,0.04)(0.2,0.02)(0.25,0)(0.3,-0.04)(0.4,-0.12)(0.5,-0.19)(0.6,-0.26)(0.7,-0.3)(0.77,-0.33)(0.8,-0.34)(0.84,-0.32)(0.88,-0.3)(0.92,-0.25)(0.95,-0.12)(0.98,-0.04)(1,0)};
\addlegendentry{KEGG\_FOCAL\_ADHESION}
\addplot[cBrown] coordinates {(0,0)(0.05,-0.02)(0.1,-0.04)(0.15,-0.05)(0.2,-0.06)(0.25,-0.08)(0.3,-0.12)(0.4,-0.2)(0.5,-0.27)(0.6,-0.33)(0.7,-0.38)(0.78,-0.41)(0.85,-0.45)(0.88,-0.44)(0.9,-0.4)(0.93,-0.3)(0.96,-0.15)(0.99,-0.02)(1,0)};
\addlegendentry{KEGG\_NOTCH\_SIGNALING\_PATHWAY}
\addplot[cSlate] coordinates {(0,0)(0.01,0.2)(0.03,0.45)(0.06,0.55)(0.1,0.58)(0.15,0.6)(0.2,0.61)(0.25,0.58)(0.3,0.54)(0.4,0.45)(0.5,0.36)(0.6,0.28)(0.7,0.2)(0.8,0.13)(0.9,0.07)(1,0)};
\addlegendentry{KEGG\_OXIDATIVE\_PHOSPHORYLATION}
\addplot[cRed] coordinates {(0,0)(0.01,0.25)(0.03,0.48)(0.06,0.57)(0.1,0.6)(0.15,0.62)(0.19,0.64)(0.25,0.6)(0.3,0.57)(0.4,0.48)(0.5,0.39)(0.6,0.31)(0.7,0.23)(0.8,0.15)(0.9,0.08)(0.95,0.04)(1,0)};
\addlegendentry{KEGG\_PARKINSONS\_DISEASE}
\addplot[cGreen] coordinates {(0,0)(0.01,0.3)(0.02,0.5)(0.04,0.66)(0.07,0.73)(0.09,0.75)(0.13,0.73)(0.2,0.7)(0.3,0.63)(0.4,0.55)(0.5,0.46)(0.6,0.38)(0.7,0.29)(0.8,0.2)(0.9,0.11)(0.97,0.03)(1,0)};
\addlegendentry{KEGG\_RIBOSOME}
\addplot[cCyan] coordinates {(0,0)(0.01,0.2)(0.03,0.4)(0.06,0.5)(0.1,0.54)(0.15,0.57)(0.2,0.59)(0.25,0.56)(0.3,0.52)(0.4,0.43)(0.5,0.34)(0.6,0.26)(0.7,0.19)(0.8,0.13)(0.9,0.06)(0.95,0.03)(1,0)};
\addlegendentry{KEGG\_SPLICEOSOME}
\addplot[draw=zerogray, line width=1pt, forget plot] coordinates {(0,0)(1,0)};
\end{axis}

% ================= E left =================
\begin{axis}[gsea, at={(49.6pt,-1388.3pt)}, width=216.4pt, height=234.3pt,
  ymin=-0.845, ymax=0.738, ytick={-0.8,-0.4,0,0.4},
  legend style={at={(1.0878,0.6968)}, row sep=9.71pt}]
\addplot[cRed] coordinates {(0,0)(0.01,0.15)(0.03,0.33)(0.06,0.52)(0.09,0.58)(0.12,0.61)(0.15,0.62)(0.2,0.58)(0.3,0.5)(0.4,0.4)(0.5,0.31)(0.6,0.22)(0.7,0.16)(0.78,0.13)(0.85,0.08)(0.9,0.05)(0.93,0.04)};
\addlegendentry{GOBP\_ACTIVATION\_OF\_MAPKK\_ACTIVITY}
\addplot[cNavy] coordinates {(0,0)(0.01,0.12)(0.03,0.3)(0.06,0.44)(0.1,0.5)(0.15,0.52)(0.2,0.5)(0.3,0.42)(0.4,0.33)(0.5,0.24)(0.6,0.16)(0.7,0.1)(0.8,0.06)(0.9,0.03)(0.95,0.01)(1,0)};
\addlegendentry{GOBP\_CELL\_SUBSTRATE\_JUNCTION\_ORGANIZATION}
\addplot[cDGreen] coordinates {(0,0)(0.02,0.01)(0.05,-0.01)(0.1,-0.05)(0.2,-0.13)(0.3,-0.21)(0.4,-0.3)(0.5,-0.38)(0.6,-0.47)(0.7,-0.55)(0.8,-0.64)(0.86,-0.69)(0.9,-0.72)(0.93,-0.71)(0.95,-0.64)(0.97,-0.5)(0.99,-0.25)(1,0)};
\addlegendentry{GOBP\_MITOCHONDRIAL\_TRANSLATIONAL\_TERMINATION}
\addplot[cPurple] coordinates {(0,0)(0.01,0.2)(0.03,0.4)(0.06,0.55)(0.09,0.63)(0.12,0.65)(0.15,0.64)(0.2,0.62)(0.25,0.63)(0.3,0.6)(0.35,0.56)(0.45,0.48)(0.55,0.41)(0.62,0.37)};
\addlegendentry{GOBP\_SEMAPHORIN\_PLEXIN\_SIGNALING\_PATHWAY}
\addplot[cBrown] coordinates {(0,0)(0.01,0.15)(0.03,0.33)(0.06,0.47)(0.08,0.52)(0.12,0.53)(0.16,0.52)(0.2,0.51)(0.25,0.47)(0.35,0.39)(0.45,0.3)(0.55,0.22)(0.65,0.15)(0.75,0.1)(0.85,0.07)(0.9,0.05)(0.93,0.04)};
\addlegendentry{GOBP\_VASCULAR\_TRANSPORT}
\addplot[cSlate] coordinates {(0,0)(0.05,-0.03)(0.1,-0.07)(0.2,-0.16)(0.3,-0.25)(0.4,-0.34)(0.5,-0.43)(0.6,-0.52)(0.7,-0.6)(0.8,-0.68)(0.87,-0.74)(0.9,-0.76)(0.93,-0.74)(0.95,-0.66)(0.97,-0.5)(0.99,-0.25)(1,0)};
\addlegendentry{GOCC\_MITOCHONDRIAL\_PROTEIN\_CONTAINING\_COMPLEX}
\addplot[cRed] coordinates {(0,0)(0.05,-0.04)(0.1,-0.08)(0.2,-0.17)(0.3,-0.26)(0.4,-0.35)(0.5,-0.44)(0.6,-0.53)(0.7,-0.62)(0.8,-0.7)(0.87,-0.76)(0.9,-0.78)(0.93,-0.77)(0.95,-0.7)(0.97,-0.55)(0.99,-0.25)(1,0)};
\addlegendentry{GOCC\_RIBOSOMAL\_SUBUNIT}
\addplot[cSea] coordinates {(0.26,-0.25)(0.3,-0.29)(0.4,-0.38)(0.5,-0.47)(0.6,-0.56)(0.7,-0.65)(0.8,-0.74)(0.87,-0.81)(0.9,-0.84)(0.92,-0.82)(0.94,-0.78)(0.96,-0.68)(0.98,-0.45)(1,0)};
\addlegendentry{GOCC\_RIBOSOME}
\addplot[cCyan] coordinates {(0,0)(0.01,0.25)(0.02,0.42)(0.05,0.45)(0.07,0.6)(0.1,0.71)(0.13,0.7)(0.17,0.69)(0.23,0.68)(0.3,0.6)(0.4,0.5)(0.5,0.41)(0.6,0.33)(0.7,0.26)(0.77,0.21)};
\addlegendentry{GOMF\_MAP\_KINASE\_KINASE\_KINASE\_ACTIVITY}
\addplot[cMaroon] coordinates {(0,0)(0.05,-0.05)(0.1,-0.09)(0.2,-0.18)(0.3,-0.27)(0.4,-0.36)(0.5,-0.45)(0.6,-0.54)(0.7,-0.63)(0.8,-0.72)(0.87,-0.78)(0.9,-0.8)(0.93,-0.78)(0.95,-0.7)(0.97,-0.55)(0.99,-0.25)(1,0)};
\addlegendentry{GOMF\_STRUCTURAL\_CONSTITUENT\_OF\_RIBOSOME}
\addplot[draw=zerogray, line width=1pt, forget plot] coordinates {(0,0)(1,0)};
\end{axis}

% ================= E right =================
\begin{axis}[gsea, at={(662.8pt,-1395pt)}, width=223.2pt, height=235.7pt,
  ymin=-0.78, ymax=0.6, ytick={-0.4,0,0.4},
  legend style={at={(1.1331,0.7138)}, row sep=9.93pt}]
\addplot[cRed] coordinates {(0,0)(0.04,-0.01)(0.1,-0.07)(0.15,-0.12)(0.2,-0.16)(0.3,-0.24)(0.4,-0.32)(0.5,-0.4)(0.6,-0.48)(0.7,-0.54)(0.8,-0.58)(0.86,-0.6)(0.9,-0.61)(0.93,-0.58)(0.95,-0.45)(0.97,-0.3)(0.99,-0.1)(1,0)};
\addlegendentry{KEGG\_ALZHEIMERS\_DISEASE}
\addplot[cNavy] coordinates {(0,0)(0.01,0.15)(0.03,0.3)(0.06,0.42)(0.1,0.44)(0.16,0.46)(0.2,0.44)(0.3,0.36)(0.4,0.28)(0.5,0.2)(0.6,0.14)(0.7,0.09)(0.8,0.1)(0.85,0.07)(0.9,0.05)(0.95,0.03)};
\addlegendentry{KEGG\_ARRHYTHMOGENIC\_RIGHT\_VENTRICULAR\_CARDIOMYOPATHY\_ARVC}
\addplot[cDGreen] coordinates {(0,0)(0.01,0.1)(0.03,0.22)(0.06,0.33)(0.1,0.39)(0.15,0.42)(0.2,0.41)(0.25,0.37)(0.3,0.32)(0.4,0.24)(0.5,0.16)(0.6,0.1)(0.7,0.05)(0.8,0.02)(0.85,0)(0.88,-0.01)(0.9,0)(0.95,0.01)(1,0)};
\addlegendentry{KEGG\_AXON\_GUIDANCE}
\addplot[cPurple] coordinates {(0,0)(0.01,0.12)(0.03,0.25)(0.06,0.33)(0.1,0.37)(0.15,0.38)(0.2,0.4)(0.25,0.39)(0.3,0.35)(0.4,0.28)(0.5,0.2)(0.6,0.13)(0.7,0.08)(0.8,0.06)(0.85,0.05)(0.9,0.06)(0.93,0.03)};
\addlegendentry{KEGG\_CELL\_ADHESION\_MOLECULES\_CAMS}
\addplot[cBrown] coordinates {(0,0)(0.01,0.15)(0.03,0.3)(0.06,0.41)(0.1,0.42)(0.15,0.43)(0.2,0.45)(0.25,0.41)(0.3,0.37)(0.4,0.3)(0.5,0.22)(0.6,0.15)(0.7,0.1)(0.8,0.08)(0.85,0.1)(0.9,0.09)};
\addlegendentry{KEGG\_ECM\_RECEPTOR\_INTERACTION}
\addplot[cSlate] coordinates {(0,0)(0.01,0.2)(0.02,0.45)(0.04,0.52)(0.07,0.55)(0.12,0.53)(0.17,0.56)(0.22,0.58)(0.26,0.54)(0.3,0.5)(0.4,0.41)(0.5,0.32)(0.6,0.25)(0.7,0.2)(0.8,0.15)(0.87,0.12)};
\addlegendentry{KEGG\_NOTCH\_SIGNALING\_PATHWAY}
\addplot[cRed] coordinates {(0,0)(0.05,-0.03)(0.1,-0.08)(0.2,-0.16)(0.3,-0.25)(0.4,-0.33)(0.5,-0.42)(0.6,-0.5)(0.7,-0.58)(0.8,-0.66)(0.86,-0.71)(0.9,-0.73)(0.93,-0.7)(0.95,-0.6)(0.97,-0.4)(1,0)};
\addlegendentry{KEGG\_OXIDATIVE\_PHOSPHORYLATION}
\addplot[cSea] coordinates {(0,0)(0.05,-0.03)(0.1,-0.08)(0.2,-0.16)(0.3,-0.24)(0.4,-0.33)(0.5,-0.41)(0.6,-0.49)(0.7,-0.57)(0.8,-0.64)(0.86,-0.69)(0.9,-0.7)(0.93,-0.68)(0.95,-0.58)(0.97,-0.4)(1,0)};
\addlegendentry{KEGG\_PARKINSONS\_DISEASE}
\addplot[cCyan] coordinates {(0,0)(0.05,-0.04)(0.1,-0.09)(0.2,-0.18)(0.3,-0.27)(0.4,-0.36)(0.5,-0.45)(0.6,-0.53)(0.7,-0.61)(0.8,-0.69)(0.86,-0.74)(0.88,-0.76)(0.92,-0.76)(0.94,-0.7)(0.96,-0.5)(0.98,-0.25)(1,0)};
\addlegendentry{KEGG\_PROTEASOME}
\addplot[cMaroon] coordinates {(0.05,-0.05)(0.1,-0.1)(0.2,-0.19)(0.3,-0.28)(0.4,-0.37)(0.5,-0.46)(0.6,-0.54)(0.7,-0.62)(0.8,-0.69)(0.86,-0.74)(0.9,-0.75)(0.93,-0.73)(0.95,-0.6)(0.97,-0.4)(0.99,-0.15)(1,0)};
\addlegendentry{KEGG\_RIBOSOME}
\addplot[draw=zerogray, line width=1pt, forget plot] coordinates {(0,0)(1,0)};
\end{axis}

% ---------- panel letters ----------
\begin{scope}[every node/.style={inner sep=0pt, anchor=base west, font=\fontsize{21}{21}\selectfont\bfseries}]
\node at (16pt,-61.7pt) {A};
\node at (16pt,-334pt) {B};
\node at (16pt,-608.3pt) {C};
\node at (16pt,-887.7pt) {D};
\node at (16pt,-1152.7pt) {E};
\end{scope}
% ---------- titles ----------
\begin{scope}[every node/.style={inner sep=0pt, anchor=base west, font=\fontsize{15}{15}\selectfont}]
\node at (49pt,-53.3pt) {Gene Ontology};
\node at (662pt,-51.5pt) {KEGG Pathway};
\node at (49pt,-331pt) {Gene Ontology};
\node at (662pt,-329.5pt) {Gene Ontology};
\node at (49pt,-604.5pt) {Gene Ontology};
\node at (662pt,-609pt) {KEGG Pathway};
\node at (49pt,-883.5pt) {Gene Ontology};
\node at (662pt,-884.5pt) {KEGG Pathway};
\node at (49pt,-1148.5pt) {Gene Ontology};
\node[font=\fontsize{16.7}{16.7}\selectfont] at (662pt,-1153pt) {KEGG Pathway};
\end{scope}
% ---------- x labels ----------
\begin{scope}[every node/.style={inner sep=0pt, anchor=base west, font=\fontsize{15}{15}\selectfont}]
\node at (48pt,-307.5pt) {ABCA1−high−vs.−ABCA1−low};
\node at (662pt,-307.5pt) {ABCA1−high−vs.−ABCA1−low};
\node at (48pt,-581pt) {DGCR2−high−vs.−DGCR2−low};
\node at (661pt,-583.5pt) {DGCR2−high−vs.−DGCR2−low};
\node at (48pt,-858pt) {GFOD1−high−vs.−GFOD1−low};
\node at (660pt,-859.5pt) {GFOD1−high−vs.−GFOD1−low};
\node at (48pt,-1128pt) {GLRX−high−vs.−GLRX−low};
\node at (660pt,-1130.5pt) {GLRX−high−vs.−GLRX−low};
\node at (48pt,-1406pt) {SEC16A−high−vs.−SEC16A−low};
\node[font=\fontsize{17}{17}\selectfont] at (661pt,-1408.5pt) {SEC16A−high−vs.−SEC16A−low};
\end{scope}
% ---------- y labels ----------
\begin{scope}[every node/.style={inner sep=0pt, rotate=90, font=\fontsize{14.5}{14.5}\selectfont}]
\node at (20pt,-188pt) {Enrichment Score};
\node at (637pt,-181pt) {Enrichment Score};
\node at (20.6pt,-465pt) {Enrichment Score};
\node at (636pt,-456pt) {Enrichment Score};
\node at (20pt,-736.5pt) {Enrichment Score};
\node at (636pt,-739pt) {Enrichment Score};
\node at (20pt,-995pt) {Enrichment Score};
\node at (636pt,-993pt) {Enrichment Score};
\node at (22pt,-1296pt) {Enrichment Score};
\node at (636pt,-1296pt) {Enrichment Score};
\end{scope}
% ---------- caption ----------
\node[inner sep=0pt, anchor=base west, text=capdark, font={\capfont\fontsize{18.5}{20}\selectfont\bfseries}] at (41pt,-1455pt) {FIGURE 7};
\node[inner sep=0pt, anchor=base west, text=caplight, font={\capfont\fontsize{19}{22}\selectfont}] at (41pt,-1479pt)
 {Gene set enrichment analysis of the diagnostic marker genes \textit{ABCA1} {\color{capdark}\textbf{(A)}}, \textit{DGCR2} {\color{capdark}\textbf{(B)}}, \textit{GFOD1} {\color{capdark}\textbf{(C)}}, \textit{GLRX} {\color{capdark}\textbf{(D)}}, and \textit{SEC16A} {\color{capdark}\textbf{(E)}}.};
\end{tikzpicture}
\end{document}
